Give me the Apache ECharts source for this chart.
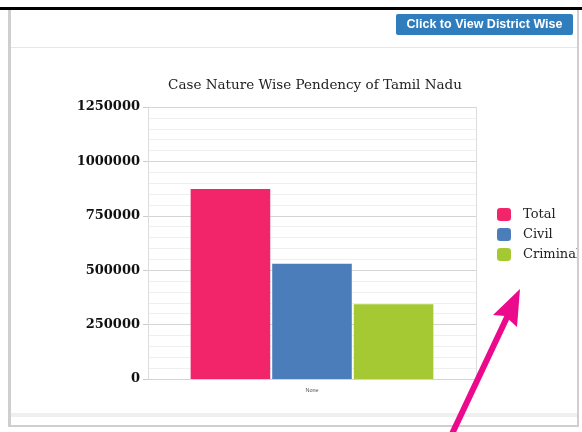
<!DOCTYPE html>
<html><head><meta charset="utf-8">
<script src="https://cdn.jsdelivr.net/npm/echarts@6/dist/echarts.min.js"></script>
<style>html,body{margin:0;padding:0;background:#fff;}#c{width:582px;height:432px;}</style>
</head><body><div id="c"></div>
<script>
const categories = ['None'];
const seriesNames = ['Total', 'Civil', 'Criminal'];
const totalValues = [873000];
const civilValues = [530000];
const criminalValues = [343000];
const yTicks = [0, 250000, 500000, 750000, 1000000, 1250000];
const colors = ['#f2246a', '#4a7dba', '#a5c932'];

const chart = echarts.init(document.getElementById('c'));
const serif = 'DejaVu Serif';
chart.setOption({
  animation: false,
  backgroundColor: '#fff',
  title: {
    text: 'Case Nature Wise Pendency of Tamil Nadu',
    left: 315, top: 78, textAlign: 'center', padding: 0,
    textStyle: {fontFamily: serif, fontSize: 13.5, fontWeight: 'normal', color: '#222'}
  },
  legend: {
    orient: 'vertical', left: 497, top: 208, padding: 0,
    itemWidth: 14, itemHeight: 13, itemGap: 7,
    icon: 'roundRect',
    data: seriesNames,
    textStyle: {fontFamily: serif, fontSize: 13, color: '#222', padding: [0, 0, 0, 7]}
  },
  grid: {left: 148, top: 107, width: 328, height: 272, containLabel: false},
  xAxis: {
    type: 'category', data: categories,
    axisLine: {show: false}, axisTick: {show: false},
    axisLabel: {fontSize: 5.5, color: '#555', margin: 8}
  },
  yAxis: {
    type: 'value', min: yTicks[0], max: yTicks[yTicks.length - 1], interval: yTicks[1] - yTicks[0],
    axisLine: {show: true, lineStyle: {color: '#ddd'}},
    axisTick: {show: true, length: 5, lineStyle: {color: '#ccc'}},
    axisLabel: {fontFamily: serif, fontWeight: 'bold', fontSize: 13, color: '#111', margin: 8,
      formatter: v => String(v)},
    splitLine: {lineStyle: {color: '#d4d4d4'}},
    minorTick: {show: false, splitNumber: 5},
    minorSplitLine: {show: true, lineStyle: {color: '#efefef'}}
  },
  series: [
    {name: seriesNames[0], type: 'bar', data: totalValues, itemStyle: {color: colors[0]}, barGap: '2.5%', barCategoryGap: '26%'},
    {name: seriesNames[1], type: 'bar', data: civilValues, itemStyle: {color: colors[1]}, barGap: '2.5%', barCategoryGap: '26%'},
    {name: seriesNames[2], type: 'bar', data: criminalValues, itemStyle: {color: colors[2]}, barGap: '2.5%', barCategoryGap: '26%'}
  ],
  graphic: [
    {type: 'rect', shape: {x: 0, y: 7, width: 582, height: 3}, style: {fill: '#000'}, z: 10},
    {type: 'rect', shape: {x: 8, y: 10, width: 3, height: 417}, style: {fill: '#cfcfcf'}, z: 10},
    {type: 'rect', shape: {x: 578, y: 10, width: 4, height: 422}, style: {fill: '#fff'}, z: 9},
    {type: 'rect', shape: {x: 577, y: 10, width: 2, height: 417}, style: {fill: '#cfcfcf'}, z: 10},
    {type: 'line', shape: {x1: 11, y1: 47.5, x2: 577, y2: 47.5}, style: {stroke: '#e6e6e6', lineWidth: 1}, z: 10},
    {type: 'rect', shape: {x: 11, y: 413, width: 566, height: 4}, style: {fill: '#efefef'}, z: 10},
    {type: 'rect', shape: {x: 8, y: 425, width: 571, height: 2}, style: {fill: '#cfcfcf'}, z: 10},
    {type: 'line', shape: {x1: 476.5, y1: 107, x2: 476.5, y2: 379}, style: {stroke: '#dcdcdc', lineWidth: 1}, z: 10},
    {type: 'rect', shape: {x: 396, y: 14, width: 177, height: 21, r: 2}, style: {fill: '#2f7dbd'}, z: 10},
    {type: 'text', x: 484.5, y: 24.5, z: 11,
      style: {text: 'Click to View District Wise', fill: '#fff', font: 'bold 12.5px "Liberation Sans", Arial',
        textAlign: 'center', textVerticalAlign: 'middle'}},
    {type: 'line', shape: {x1: 451, y1: 436, x2: 509, y2: 313}, style: {stroke: '#ec0a8c', lineWidth: 6}, z: 12},
    {type: 'polygon', shape: {points: [[520, 289], [493, 315], [505, 316], [517, 327]]}, style: {fill: '#ec0a8c'}, z: 12}
  ]
});
</script></body></html>
